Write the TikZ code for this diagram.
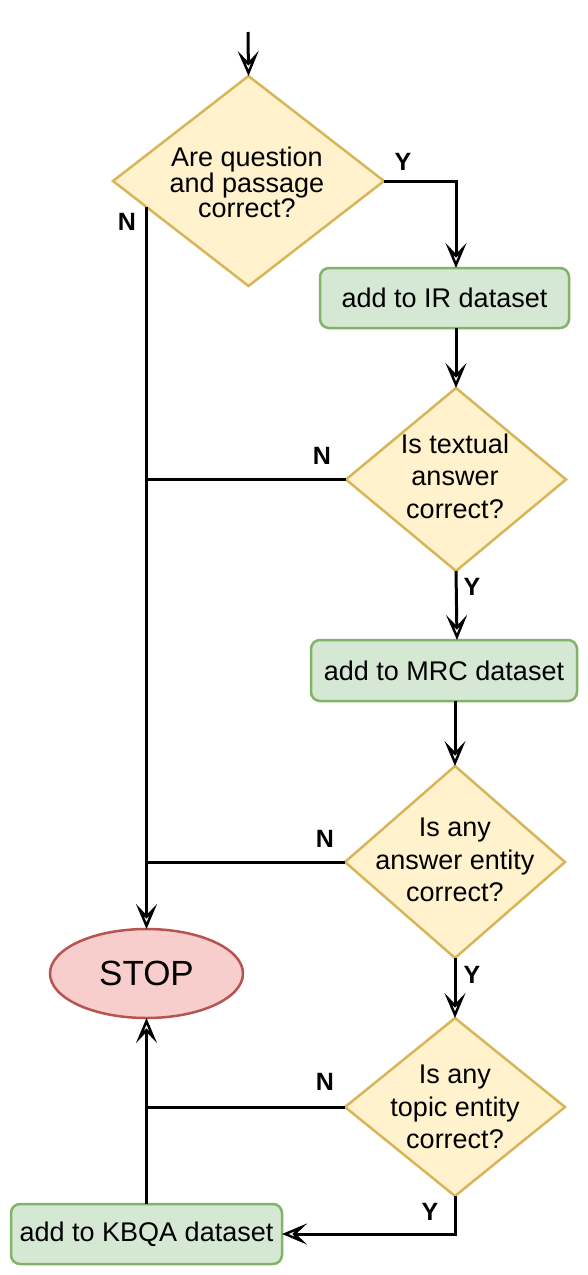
\documentclass[tikz,border=0pt]{standalone}
\usepackage{fontspec}
\setmainfont{Liberation Sans}
\usetikzlibrary{shapes.geometric,arrows.meta,calc}
\definecolor{dfill}{HTML}{FFF2CC}
\definecolor{dline}{HTML}{D6B656}
\definecolor{gfill}{HTML}{D5E8D4}
\definecolor{gline}{HTML}{82B366}
\definecolor{rfill}{HTML}{F8CECC}
\definecolor{rline}{HTML}{B85450}
\tikzset{
  dec/.style={diamond, draw=dline, fill=dfill, line width=2.5pt, inner sep=0pt, outer sep=0pt},
  dtext/.style={align=center, font=\fontsize{27}{32.5}\selectfont, inner sep=0pt},
  box/.style={rectangle, rounded corners=9pt, draw=gline, fill=gfill, line width=2.5pt, inner sep=0pt, outer sep=0pt, font=\fontsize{27}{32}\selectfont},
  term/.style={ellipse, draw=rline, fill=rfill, line width=2.5pt, inner sep=0pt, outer sep=0pt, font=\fontsize{35}{40}\selectfont},
  conn/.style={line width=3pt, black},
  edge/.style={conn, -{Stealth[open, length=25pt, width=21pt, inset=11pt, line width=2.5pt]}},
  lab/.style={font=\bfseries\fontsize{25}{29}\selectfont, inner sep=0pt}
}
\begin{document}
\begin{tikzpicture}[x=1pt,y=-1pt]
\useasboundingbox (0,0) rectangle (588,1275);
% nodes
\coordinate (start) at (248,32);
\node[dec, minimum width=271pt, minimum height=210pt] (d1) at (248.5,181) {};
\node[dtext, font=\fontsize{27}{25}\selectfont] (t1) at (247,182) {Are question\\and passage\\correct?};
\node[box, minimum width=249pt, minimum height=60pt] (ir) at (444.5,298) {add to IR dataset};
\node[dec, minimum width=220pt, minimum height=183pt] (d2) at (456,479.5) {};
\node[dtext] (t2) at (455,476) {Is textual\\answer\\correct?};
\node[box, minimum width=266pt, minimum height=61pt] (mrc) at (444,670.5) {add to MRC dataset};
\node[dec, minimum width=220pt, minimum height=192pt] (d3) at (455,862) {};
\node[dtext] (t3) at (455,860) {Is any\\answer entity\\correct?};
\node[dec, minimum width=220pt, minimum height=178pt] (d4) at (455,1107) {};
\node[dtext] (t4) at (455,1107) {Is any\\topic entity\\correct?};
\node[term, minimum width=193pt, minimum height=89pt] (stop) at (146.5,973.5) {STOP};
\node[box, minimum width=271pt, minimum height=60pt] (kbqa) at (146.5,1234) {add to KBQA dataset};
% labels
\node[lab] (y1) at (403,162) {Y};
\node[lab] (n1) at (127,222) {N};
\node[lab] (n2) at (322,456) {N};
\node[lab] (y2) at (472,587) {Y};
\node[lab] (n3) at (325,839) {N};
\node[lab] (y3) at (472,975) {Y};
\node[lab] (n4) at (325,1082) {N};
\node[lab] (y4) at (430,1212) {Y};
% connectors
\coordinate (n1s) at ($(d1.west)!0.25!(d1.south)$);
\draw[edge] (start) -- (d1.north);
\draw[edge] (d1.east) -| ([xshift=11.5pt]ir.north);
\draw[edge] ([xshift=11.5pt]ir.south) -- (d2.north);
\draw[edge] (d2.south) -- ([xshift=13pt]mrc.north);
\draw[edge] ([xshift=11pt]mrc.south) -- (d3.north);
\draw[edge] (d3.south) -- (d4.north);
\draw[edge] (d4.south) |- (kbqa.east);
\draw[edge] (kbqa.north) -- (stop.south);
\draw[edge] (stop.north |- n1s) -- (stop.north);
\draw[conn] (d2.west) -- (d2.west -| stop.north);
\draw[conn] (d3.west) -- (d3.west -| stop.north);
\draw[conn] (d4.west) -- (d4.west -| stop.north);
\end{tikzpicture}
\end{document}
